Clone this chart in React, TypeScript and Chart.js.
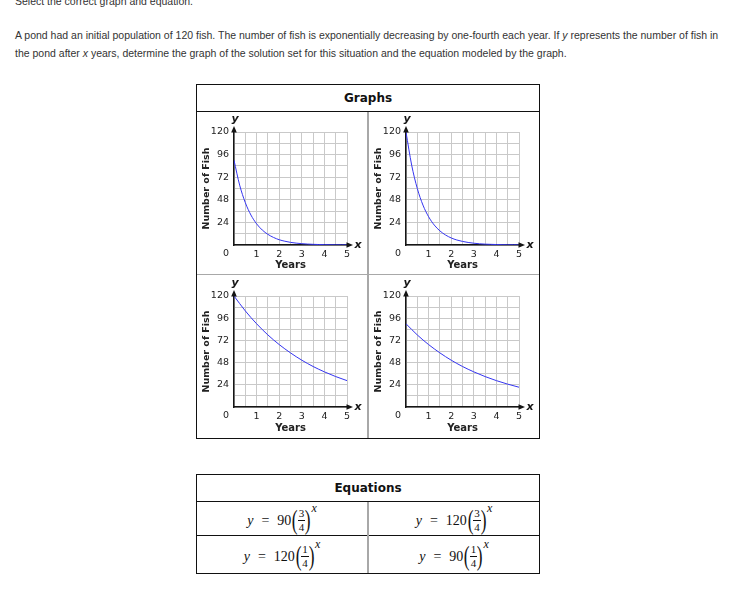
import React, { useEffect, useRef } from 'react';
import { Chart, registerables } from 'chart.js';

Chart.register(...registerables);

// ---------- data ----------
const YEARS_QUARTER = [0, 0.25, 0.5, 0.75, 1, 1.25, 1.5, 1.75, 2, 2.25, 2.5, 2.75, 3, 3.25, 3.5, 3.75, 4, 4.25, 4.5, 4.75, 5];
const YEARS_HALF = [0, 0.5, 1, 1.5, 2, 2.5, 3, 3.5, 4, 4.5, 5];
// top-left graph
const FISH_GRAPH_A = [90, 63.6, 45, 31.8, 22.5, 15.9, 11.3, 8.0, 5.6, 4.0, 2.8, 2.0, 1.4, 1.0, 0.7, 0.5, 0.35, 0.25, 0.18, 0.12, 0.09];
// top-right graph
const FISH_GRAPH_B = [120, 84.9, 60, 42.4, 30, 21.2, 15, 10.6, 7.5, 5.3, 3.8, 2.7, 1.9, 1.3, 0.9, 0.7, 0.5, 0.3, 0.2, 0.2, 0.1];
// bottom-left graph
const FISH_GRAPH_C = [120, 103.9, 90, 77.9, 67.5, 58.5, 50.6, 43.8, 38.0, 32.9, 28.5];
// bottom-right graph
const FISH_GRAPH_D = [90, 77.9, 67.5, 58.5, 50.6, 43.8, 38.0, 32.9, 28.5, 24.7, 21.4];

const Y_TICK_LABELS = [24, 48, 72, 96, 120];
const X_TICK_LABELS = [1, 2, 3, 4, 5];
const Y_AXIS_TITLE = 'Number of Fish';
const X_AXIS_TITLE = 'Years';

const QUESTION_TITLE = 'Select the correct graph and equation.';

// ---------- styling ----------
const GRAPH_FONT = '"DejaVu Sans", Verdana, sans-serif';
const TEXT_COLOR = '#222';
const GRID_COLOR = '#c9c9c9';
const AXIS_COLOR = '#151515';
const CURVE_COLOR = '#3535f0';

const axisDecor = {
  id: 'axisDecor',
  afterDraw(chart: any) {
    const { ctx, chartArea } = chart;
    const { left, right, top, bottom } = chartArea;
    ctx.save();
    ctx.fillStyle = AXIS_COLOR;
    // y arrow head
    ctx.beginPath();
    ctx.moveTo(left, top - 6);
    ctx.lineTo(left - 2.8, top + 0.5);
    ctx.lineTo(left + 2.8, top + 0.5);
    ctx.closePath();
    ctx.fill();
    // x arrow head
    ctx.beginPath();
    ctx.moveTo(right + 6, bottom);
    ctx.lineTo(right - 0.5, bottom - 2.8);
    ctx.lineTo(right - 0.5, bottom + 2.8);
    ctx.closePath();
    ctx.fill();
    ctx.textAlign = 'center';
    ctx.textBaseline = 'middle';
    ctx.font = 'italic bold 11px ' + GRAPH_FONT;
    ctx.fillText('y', left + 1, top - 13);
    ctx.fillText('x', right + 11, bottom);
    ctx.fillStyle = TEXT_COLOR;
    ctx.font = '9.5px ' + GRAPH_FONT;
    ctx.fillText('0', left - 8, bottom + 9);
    ctx.restore();
  },
};

function makeConfig(xs: number[], ys: number[], padTop: number, xAxisH: number) {
  return {
    type: 'line',
    data: {
      datasets: [
        {
          data: xs.map((x, i) => ({ x, y: ys[i] })),
          borderColor: CURVE_COLOR,
          borderWidth: 1,
          pointRadius: 0,
          fill: false,
          cubicInterpolationMode: 'monotone',
        },
      ],
    },
    options: {
      responsive: false,
      animation: false,
      events: [],
      layout: { padding: { top: padTop, right: 20, left: 0, bottom: 0 } },
      plugins: { legend: { display: false }, tooltip: { enabled: false } },
      scales: {
        x: {
          type: 'linear',
          min: 0,
          max: 5,
          afterFit: (s: any) => {
            s.height = xAxisH;
          },
          ticks: {
            stepSize: 0.5,
            autoSkip: false,
            maxRotation: 0,
            padding: 4,
            color: TEXT_COLOR,
            font: { family: GRAPH_FONT, size: 9.5 },
            callback: (v: any) => (X_TICK_LABELS.includes(Number(v)) ? String(v) : ''),
          },
          grid: { color: GRID_COLOR, drawTicks: false, lineWidth: 1 },
          border: { color: AXIS_COLOR, width: 1.5 },
          title: {
            display: true,
            text: X_AXIS_TITLE,
            color: TEXT_COLOR,
            padding: { top: 0, bottom: 3 },
            font: { family: GRAPH_FONT, size: 10, weight: 'bold' },
          },
        },
        y: {
          type: 'linear',
          min: 0,
          max: 120,
          afterFit: (s: any) => {
            s.width = 37;
          },
          ticks: {
            stepSize: 12,
            autoSkip: false,
            padding: 5,
            color: TEXT_COLOR,
            font: { family: GRAPH_FONT, size: 9.5 },
            callback: (v: any) => (Y_TICK_LABELS.includes(Number(v)) ? String(v) : ''),
          },
          grid: { color: GRID_COLOR, drawTicks: false, lineWidth: 1 },
          border: { color: AXIS_COLOR, width: 1.5 },
          title: {
            display: true,
            text: Y_AXIS_TITLE,
            color: TEXT_COLOR,
            padding: { top: 4, bottom: 0 },
            font: { family: GRAPH_FONT, size: 9.5, weight: 'bold' },
          },
        },
      },
    },
    plugins: [axisDecor],
  } as any;
}

function Graph(props: { left: number; top: number; width: number; height: number; xs: number[]; ys: number[]; padTop: number; xAxisH: number }) {
  const ref = useRef<HTMLCanvasElement | null>(null);
  useEffect(() => {
    if (!ref.current) return;
    const chart = new Chart(ref.current, makeConfig(props.xs, props.ys, props.padTop, props.xAxisH));
    return () => chart.destroy();
  }, []);
  return (
    <canvas
      ref={ref}
      width={props.width}
      height={props.height}
      style={{ position: 'absolute', left: props.left, top: props.top, width: props.width, height: props.height }}
    />
  );
}

function Equation(props: { coef: string; num: string; den: string }) {
  const serif = '"Liberation Serif", "DejaVu Serif", serif';
  return (
    <div style={{ display: 'flex', alignItems: 'center', fontFamily: serif, fontSize: 14, color: '#111', height: 32, position: 'relative' }}>
      <span style={{ fontStyle: 'italic', marginTop: 4 }}>y</span>
      <span style={{ margin: '0 8px', marginTop: 4 }}>=</span>
      <span style={{ marginTop: 4 }}>{props.coef}</span>
      <span style={{ fontSize: 28, lineHeight: '28px', display: 'inline-block', transform: 'scaleX(0.62)', margin: '2px -2px 0 -1px' }}>(</span>
      <span style={{ display: 'inline-flex', flexDirection: 'column', alignItems: 'center', fontSize: 11, lineHeight: '11px', marginTop: 4 }}>
        <span style={{ padding: '0 1px 1px' }}>{props.num}</span>
        <span style={{ borderTop: '1px solid #111', padding: '1px 1px 0' }}>{props.den}</span>
      </span>
      <span style={{ fontSize: 28, lineHeight: '28px', display: 'inline-block', transform: 'scaleX(0.62)', margin: '2px -1px 0 -2px' }}>)</span>
      <span style={{ fontStyle: 'italic', fontSize: 12, alignSelf: 'flex-start', marginTop: -2 }}>x</span>
    </div>
  );
}

export default function App() {
  const sans = '"Liberation Sans", Arial, sans-serif';
  const headFont = '"DejaVu Sans", Verdana, sans-serif';
  const cell = (left: number, top: number, width: number, height: number, child: any) => (
    <div style={{ position: 'absolute', left, top, width, height, display: 'flex', alignItems: 'center', justifyContent: 'center' }}>{child}</div>
  );
  return (
    <div style={{ position: 'absolute', left: 0, top: 0, width: 730, height: 596, overflow: 'hidden', background: '#fff' }}>
      <div style={{ position: 'absolute', left: 15, top: -8, fontFamily: sans, fontSize: 10.5, lineHeight: '18px', color: '#333', whiteSpace: 'nowrap' }}>
        {QUESTION_TITLE}
      </div>
      <div style={{ position: 'absolute', left: 15, top: 25.5, fontFamily: sans, fontSize: 10.5, lineHeight: '18px', color: '#333', whiteSpace: 'nowrap' }}>
        <div>
          A pond had an initial population of 120 fish. The number of fish is exponentially decreasing by one-fourth each year. If <i>y</i> represents the number of fish in
        </div>
        <div>
          the pond after <i>x</i> years, determine the graph of the solution set for this situation and the equation modeled by the graph.
        </div>
      </div>

      {/* Graphs table */}
      <div style={{ position: 'absolute', left: 196, top: 84, width: 344, height: 355, border: '1px solid #111', boxSizing: 'border-box' }} />
      <div style={{ position: 'absolute', left: 196, top: 111, width: 344, height: 1, background: '#111' }} />
      <div style={{ position: 'absolute', left: 197, top: 274, width: 342, height: 1, background: '#a8a8a8' }} />
      <div style={{ position: 'absolute', left: 367, top: 112, width: 2, height: 326, background: '#a8a8a8' }} />
      {cell(197, 85, 342, 26, <span style={{ fontFamily: headFont, fontWeight: 'bold', fontSize: 12, color: '#111' }}>Graphs</span>)}

      <Graph left={197} top={112} width={170} height={162} xs={YEARS_QUARTER} ys={FISH_GRAPH_A} padTop={20} xAxisH={29} />
      <Graph left={369} top={112} width={170} height={162} xs={YEARS_QUARTER} ys={FISH_GRAPH_B} padTop={20} xAxisH={29} />
      <Graph left={197} top={275} width={170} height={162} xs={YEARS_HALF} ys={FISH_GRAPH_C} padTop={21} xAxisH={30} />
      <Graph left={369} top={275} width={170} height={162} xs={YEARS_HALF} ys={FISH_GRAPH_D} padTop={21} xAxisH={30} />

      {/* Equations table */}
      <div style={{ position: 'absolute', left: 196, top: 474, width: 344, height: 100, border: '1px solid #111', boxSizing: 'border-box' }} />
      <div style={{ position: 'absolute', left: 196, top: 501, width: 344, height: 1, background: '#111' }} />
      <div style={{ position: 'absolute', left: 196, top: 535, width: 344, height: 1, background: '#111' }} />
      <div style={{ position: 'absolute', left: 367, top: 502, width: 2, height: 71, background: '#a8a8a8' }} />
      {cell(197, 475, 342, 26, <span style={{ fontFamily: headFont, fontWeight: 'bold', fontSize: 12, color: '#111' }}>Equations</span>)}

      {cell(197, 502, 170, 33, <Equation coef="90" num="3" den="4" />)}
      {cell(369, 502, 170, 33, <Equation coef="120" num="3" den="4" />)}
      {cell(197, 536, 170, 37, <Equation coef="120" num="1" den="4" />)}
      {cell(369, 536, 170, 37, <Equation coef="90" num="1" den="4" />)}
    </div>
  );
}
